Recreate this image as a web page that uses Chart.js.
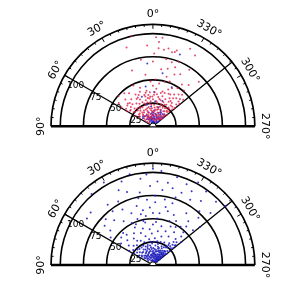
<!DOCTYPE html>
<html>
<head>
<meta charset="utf-8">
<script src="https://cdn.jsdelivr.net/npm/chart.js@4"></script>
<style>
  html, body { margin: 0; padding: 0; background: #fff; }
  #wrap { position: relative; width: 300px; height: 287px; }
  canvas { position: absolute; left: 0; }
</style>
</head>
<body>
<div id="wrap">
  <canvas id="topChart" width="300" height="143" style="top:0"></canvas>
  <canvas id="bottomChart" width="300" height="144" style="top:143px"></canvas>
</div>
<script>
// polar data: [angle in degrees (0 = top, counterclockwise), radius]
const rings = [25, 50, 75, 100];
const ringLabels = ['25', '50', '75', '100'];
const angleTicks = [90, 60, 30, 0, 330, 300, 270];
const angleLabels = ['90°', '60°', '30°', '0°', '330°', '300°', '270°'];
const rays = [60, 309];
const rMax = 110;

const topRed = [
  [13,103],[358,99],[354,99],[356,94],[4,90],[356,87],[352,86],[349,88],[346,85],[344,86],[343,88],[359,81],
  [330,91],[349,76],[344,74],[339,77],[0,72],[20,66],[352,64],[346,66],[338,62],[333,65],[315,70],[320,60],
  [8,58],[345,57],[326,56],[18,92],[335,95],[340,70],[328,74],[10,75],
  [3,50],[357,52],[352,48],[346,51],[340,53],[334,47],[328,50],[322,45],[316,42],[18,45],[10,40],[30,35],
  [50,36],[53,30],[45,42],[40,48],[35,45],[25,50],[0,45],[355,42],[345,40],[338,44],[332,40],[325,38],
  [318,47],[312,44],[320,52],[5,38],[15,36],[58,40],[55,45],[48,50],
  [0,30],[5,28],[10,32],[15,30],[20,27],[25,33],[30,29],[35,31],[40,26],[45,28],[50,25],[55,30],[58,22],
  [52,18],[45,20],[38,22],[32,18],[28,24],[22,20],[18,25],[12,22],[8,26],[3,20],[357,24],[352,28],[348,22],
  [344,30],[340,26],[336,20],[332,27],[328,32],[324,25],[320,30],[316,22],[312,28],[310,20],[314,35],[318,18],
  [322,15],[326,20],[330,14],[334,17],[338,12],[342,16],[346,19],[350,14],[354,17],[358,12],[2,15],[6,18],
  [11,14],[16,16],[21,13],[26,15],[31,12],[36,14],[41,16],[46,13],[50,11],[35,24],[42,33],[48,32],[56,35],
  [24,38],[14,34],[8,35],[358,35],[350,33],[343,35],[336,33],[330,36],[322,33],[316,30],[311,38],[313,12],
  [319,10],[327,9],[52,8],[44,6],[30,8],[20,9],[10,10],[0,8],[350,7],[340,9],[333,6],
  [1,33],[4,24],[7,31],[13,27],[17,21],[23,29],[27,36],[33,26],[37,19],[43,24],[47,37],[53,26],[57,17],[59,33],
  [355,21],[349,26],[347,31],[341,23],[337,29],[333,23],[329,28],[326,34],[323,21],[321,27],[317,26],[313,24],
  [311,31],[315,17],[357,38],[353,36],[347,38],[341,39],[335,40],[327,42],[321,40],[315,39],[5,33],[12,38],
  [20,41],[28,40],[38,38],[44,36],[9,20],[19,18],[29,20],[39,17],[49,20],[359,17],[351,19],[343,20],[335,25],
  [327,24],[319,23],[313,16],[311,13],[318,14],[4,12],[14,11],[24,11],[34,10],[344,12],[336,14],[328,11],[322,11]
];

const topBlue = [
  [0,5],[5,8],[10,6],[15,10],[20,7],[25,12],[30,9],[355,6],[350,9],[345,5],[340,11],[335,8],[330,12],
  [325,7],[320,10],[315,14],[318,6],[328,15],[338,16],[348,14],[358,12],[8,14],[18,16],[28,14],[40,10],
  [45,15],[2,3],[352,3],[12,4],[342,4],[322,4],[312,8],[335,20],[345,22],[355,18],[5,22],[15,25],[355,28],
  [340,30],[10,45],[350,60],[340,85],[5,70],[20,35],[335,48],[358,38],[3,16],[332,18],
  [3,9],[8,11],[13,8],[22,10],[33,6],[38,14],[358,9],[353,11],[347,8],[343,13],[337,5],[333,10],[327,11],
  [323,13],[317,11],[313,11],[311,15],[316,18],[322,17],[330,17],[7,4],[17,4],[357,15],[0,13],[50,14]
];

const bottomBlue = [
  [4,101],[357,93],[350,93],[355,105],[0,107],[8,97],[14,104],[20,99],[30,106],[40,103],[345,101],[338,97],
  [332,104],[325,100],[316,98],[310,102],[49,89],[54,88],[36,83],[28,80],[19,86],[10,82],[2,88],[353,84],
  [346,88],[339,86],[331,83],[324,88],[320,78],[313,85],[333,92],[342,79],[358,77],[12,76],[24,91],
  [28,70],[40,65],[50,60],[56,55],[45,72],[33,58],[22,62],[15,68],[8,55],[3,64],[358,70],[353,58],[348,66],
  [343,72],[338,60],[333,55],[328,68],[322,62],[317,72],[312,58],[310,66],[325,52],[340,52],[355,52],[10,62],
  [18,54],[26,52],[36,74],[50,68],[5,73],[350,74],[320,56],[345,62],[0,58],[13,58],
  [0,45],[5,40],[10,48],[15,42],[20,38],[25,46],[30,41],[35,36],[40,44],[45,39],[50,34],[55,42],[58,30],
  [52,27],[44,30],[38,28],[32,32],[26,30],[20,27],[14,33],[8,29],[2,35],[356,30],[352,38],[348,44],[344,33],
  [340,40],[336,47],[332,36],[328,43],[324,30],[320,38],[316,44],[312,33],[310,40],[314,27],[318,28],[326,26],
  [334,28],[342,27],[350,27],[358,26],[6,26],[356,48],[330,49],[318,49],[12,50],[22,49],[42,48],[48,46],
  [0,10],[3,15],[6,20],[9,12],[12,18],[15,8],[18,14],[21,22],[24,10],[27,16],[30,20],[33,12],[36,18],[39,23],
  [42,14],[45,20],[48,16],[51,22],[54,18],[57,24],[357,12],[354,18],[351,8],[348,15],[345,21],[342,11],
  [339,17],[336,23],[333,9],[330,14],[327,19],[324,24],[321,12],[318,17],[315,22],[312,14],[310,19],[311,24],
  [314,9],[317,6],[320,20],[323,16],[326,10],[329,23],[332,18],[335,13],[338,6],[341,20],[344,16],[347,24],
  [350,12],[353,22],[356,5],[359,19],[2,24],[5,6],[8,22],[11,5],[14,23],[17,19],[20,5],[23,13],[26,24],[29,7],
  [32,23],[35,9],[38,13],[41,9],[44,24],[47,7],[50,12],[330,5],[320,8],[340,4],[350,4],[0,4],[10,3],[325,16],
  [335,18],[345,10],[355,14],[5,11],[15,15],[25,19],[318,12],[322,20],[328,13],[313,18],[316,15],[325,6],[333,21],
  [311,10],[312,6],[313,12],[314,16],[315,5],[316,11],[317,13],[318,20],[319,9],[320,15],[321,18],[322,7],
  [323,10],[324,14],[326,17],[327,8],[329,11],[331,16],[332,8],[334,11],[336,16],[337,9],[339,13],[341,7],
  [343,19],[346,12],[349,17],[352,10],[354,13],[357,8],[358,16],[1,13],[4,18],[7,9],[10,16],[13,11],[16,21],
  [19,9],[22,17],[26,12],[31,15],[36,11],[40,18],[46,11],[52,15],[311,29],[313,32],[315,36],[317,31],[319,34],
  [321,25],[323,28]
];

const PX = 0.952; // pixels per radial unit

const rad = (t) => t * Math.PI / 180;
const toXY = (p) => ({ x: -p[1] * Math.sin(rad(p[0])), y: p[1] * Math.cos(rad(p[0])) });

const polarGrid = {
  id: 'polarGrid',
  beforeDatasetsDraw(chart) {
    const { ctx } = chart;
    const sx = chart.scales.x, sy = chart.scales.y;
    const cx = sx.getPixelForValue(0), cy = sy.getPixelForValue(0);
    const k = sx.getPixelForValue(1) - cx;
    const pt = (t, r) => [cx - r * k * Math.sin(rad(t)), cy - r * k * Math.cos(rad(t))];
    ctx.save();
    ctx.strokeStyle = '#000';
    ctx.lineWidth = 1.6;
    rings.forEach((r) => {
      ctx.beginPath();
      ctx.arc(cx, cy, r * k, Math.PI, 2 * Math.PI);
      ctx.stroke();
    });
    ctx.lineWidth = 1.7;
    ctx.beginPath();
    ctx.arc(cx, cy, rMax * k, Math.PI, 2 * Math.PI);
    ctx.stroke();
    // ticks on the frame
    ctx.lineWidth = 1;
    for (let t = 0; t < 360; t += 5) {
      if (t > 90 && t < 270) continue;
      const len = t % 30 === 0 ? 4.5 : 2.2;
      const a = pt(t, rMax), b = pt(t, rMax - len / k);
      ctx.beginPath();
      ctx.moveTo(a[0], a[1]);
      ctx.lineTo(b[0], b[1]);
      ctx.stroke();
    }
    ctx.lineWidth = 1.3;
    rays.forEach((t) => {
      const e = pt(t, rMax);
      ctx.beginPath();
      ctx.moveTo(cx, cy);
      ctx.lineTo(e[0], e[1]);
      ctx.stroke();
    });
    ctx.lineWidth = 2.4;
    ctx.beginPath();
    ctx.moveTo(cx - rMax * k, cy);
    ctx.lineTo(cx + rMax * k, cy);
    ctx.stroke();
    // radial labels along the 60 deg ray
    ctx.fillStyle = '#000';
    ctx.font = '9px "DejaVu Sans", sans-serif';
    ctx.textAlign = 'center';
    ctx.textBaseline = 'middle';
    rings.forEach((r, i) => {
      const p = pt(60, r);
      ctx.fillText(ringLabels[i], p[0] + 3, p[1] + 6);
    });
    // angle labels
    ctx.font = '11px "DejaVu Sans", sans-serif';
    angleTicks.forEach((t, i) => {
      const p = pt(t, 112 / k);
      ctx.save();
      ctx.translate(p[0], p[1]);
      ctx.rotate(-rad(t));
      ctx.fillText(angleLabels[i], 0, 0);
      ctx.restore();
    });
    ctx.restore();
  },
  afterDatasetsDraw(chart) {
    const { ctx } = chart;
    const cx = chart.scales.x.getPixelForValue(0), cy = chart.scales.y.getPixelForValue(0);
    ctx.save();
    ctx.fillStyle = '#fff';
    ctx.strokeStyle = '#000';
    ctx.lineWidth = 1;
    ctx.beginPath();
    ctx.arc(cx, cy, 3.2, Math.PI, 2 * Math.PI);
    ctx.fill();
    ctx.stroke();
    ctx.restore();
  }
};

const makePolar = function (id, height, centerY, sets) {
  new Chart(document.getElementById(id), {
    type: 'scatter',
    data: {
      datasets: sets.map((s) => ({
        data: s.data.map(toXY),
        backgroundColor: s.color,
        pointRadius: 1,
        pointBorderWidth: 0,
      })),
    },
    options: {
      responsive: false,
      animation: false,
      events: [],
      layout: { padding: 0 },
      plugins: { legend: { display: false }, tooltip: { enabled: false } },
      scales: {
        x: { display: false, min: -153 / PX, max: 147 / PX },
        y: { display: false, min: (centerY - height) / PX, max: centerY / PX },
      },
    },
    plugins: [polarGrid],
  });
};

makePolar('topChart', 143, 129.5, [
  { data: topRed, color: 'rgba(222,30,70,0.8)' },
  { data: topBlue, color: 'rgba(35,35,210,0.85)' },
]);
makePolar('bottomChart', 144, 125, [
  { data: bottomBlue, color: 'rgba(35,35,190,0.9)' },
]);
</script>
</body>
</html>
